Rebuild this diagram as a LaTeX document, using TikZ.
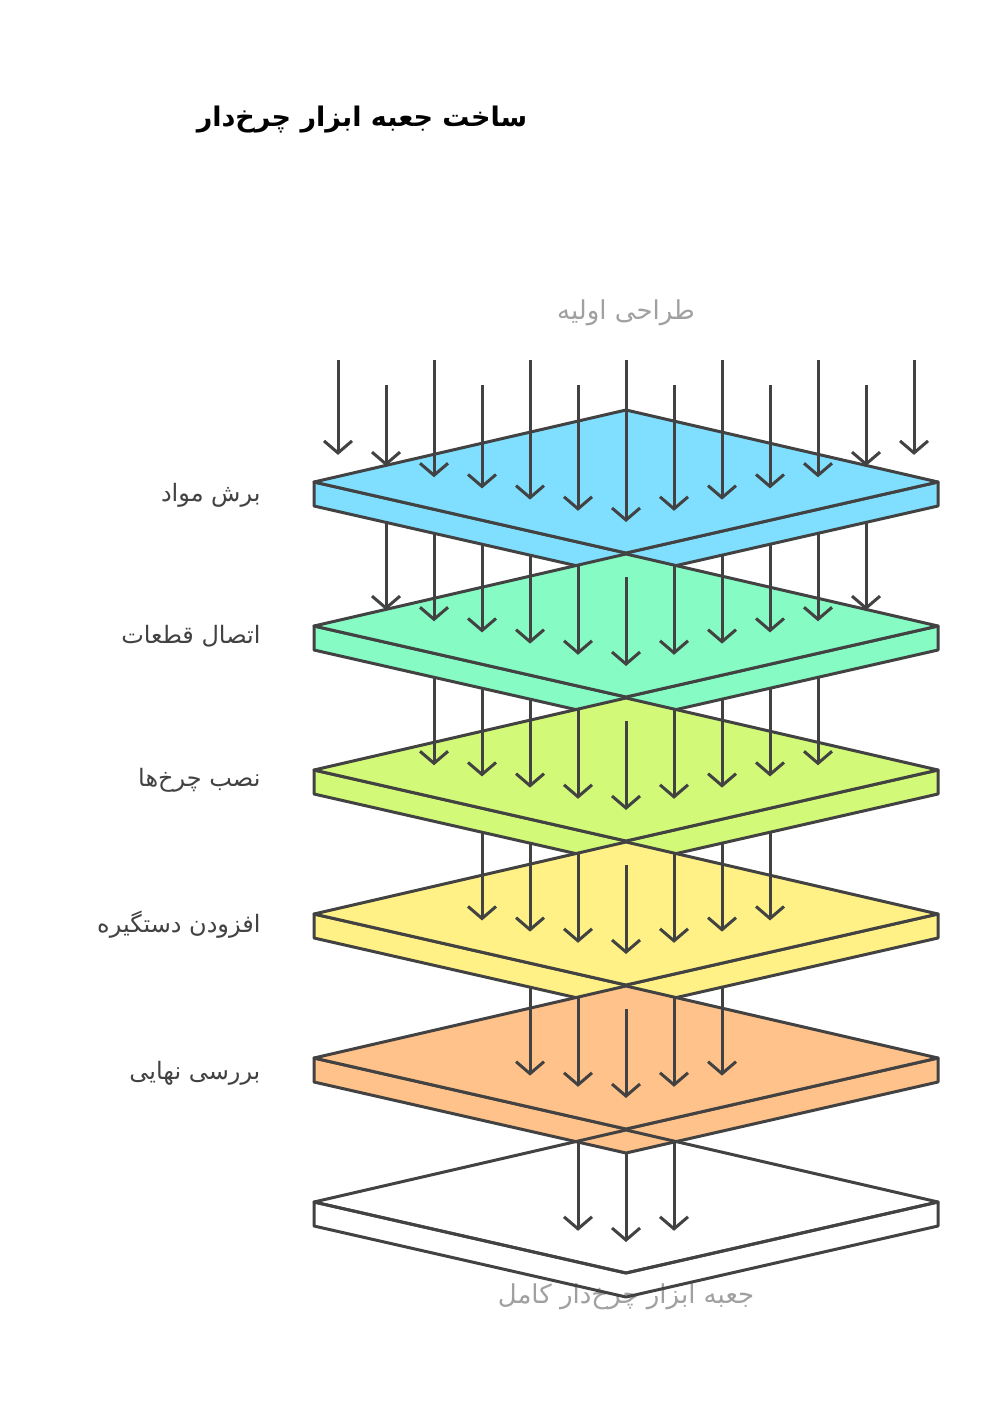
\documentclass[tikz,border=0pt]{standalone}
\usepackage{fontspec}
\newfontfamily\arabicfont[Script=Arabic]{DejaVu Sans}
\TeXXeTstate=1
\usetikzlibrary{arrows.meta}
\definecolor{edge}{HTML}{424242}
\definecolor{faded}{HTML}{A0A0A0}
\definecolor{cutcol}{HTML}{80DFFF}
\definecolor{joincol}{HTML}{86FBC4}
\definecolor{wheelcol}{HTML}{D2FA78}
\definecolor{handlecol}{HTML}{FFF185}
\definecolor{checkcol}{HTML}{FFC28A}
\tikzset{
  plateline/.style={draw=edge,line width=3pt,line join=round},
  flow/.style={draw=edge,line width=3pt,-{Straight Barb[length=12pt,width=28pt,line width=3pt]}},
  steplabel/.style={anchor=east,text=edge,font=\arabicfont\fontsize{24}{28}\selectfont}
}
\newcommand{\plate}[2]{%
  \filldraw[plateline,fill=#2] (314,#1+72) -- (314,#1+96) -- (626,#1+167) -- (938,#1+96) -- (938,#1+72) -- (626,#1+143) -- cycle;
  \filldraw[plateline,fill=#2] (314,#1+72) -- (626,#1) -- (938,#1+72) -- (626,#1+143) -- cycle;
}
\begin{document}
\begin{tikzpicture}[x=1pt,y=-1pt]
    \useasboundingbox (0,0) rectangle (988,1420);
    % titles
    \node (title) at (362,120) {\arabicfont\bfseries\fontsize{27}{32}\selectfont\beginR ساخت جعبه ابزار چرخ‌دار\endR};
    \node[text=faded] (input) at (626,313) {\arabicfont\fontsize{26}{30}\selectfont\beginR طراحی اولیه\endR};
    \node[text=faded] (output) at (626,1297) {\arabicfont\fontsize{26}{30}\selectfont\beginR جعبه ابزار چرخ‌دار کامل\endR};
    % first plate and incoming arrows
    \plate{410}{cutcol}
    \foreach \i in {0,...,12} {
        \pgfmathsetmacro{\xx}{338+48*\i}
        \pgfmathsetmacro{\ys}{isodd(\i) ? 385 : 360}
        \pgfmathsetmacro{\yt}{522-0.233*abs(\xx-626)}
        \draw[flow] (\xx,\ys) -- (\xx,\yt);
    }
    % lower plates
    \foreach \k/\col in {1/joincol,2/wheelcol,3/handlecol,4/checkcol,5/none} {
        \ifx\col\none\else\plate{410+144*\k}{\col}\fi
        \foreach \i in {\k,...,\numexpr12-\k\relax} {
            \pgfmathsetmacro{\xx}{338+48*\i}
            \pgfmathsetmacro{\ys}{577-0.2276*abs(\xx-626)+144*(\k-1)}
            \pgfmathsetmacro{\yt}{522+144*\k-0.233*abs(\xx-626)}
            \draw[flow] (\xx,\ys) -- (\xx,\yt);
        }
    }
    % step labels
    \node[steplabel] (cut) at (264,495) {\beginR برش مواد\endR};
    \node[steplabel] (join) at (264,636) {\beginR اتصال قطعات\endR};
    \node[steplabel] (wheel) at (264,780) {\beginR نصب چرخ‌ها\endR};
    \node[steplabel] (handle) at (264,925) {\beginR افزودن دستگیره\endR};
    \node[steplabel] (check) at (264,1073) {\beginR بررسی نهایی\endR};
\end{tikzpicture}
\end{document}
